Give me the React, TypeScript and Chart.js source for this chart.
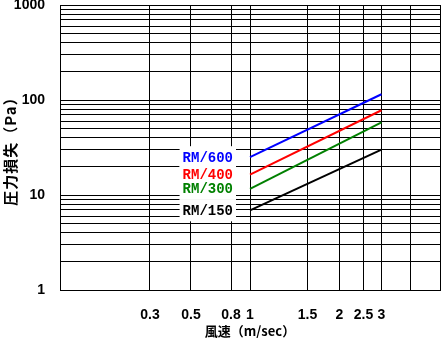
import React, { useEffect, useRef } from 'react';
import { Chart, LinearScale, LogarithmicScale, registerables } from 'chart.js';

// ---- data ----
const windSpeed = [1, 3];
const rm600 = [25, 115];
const rm400 = [16.4, 78];
const rm300 = [11.6, 58];
const rm150 = [6.9, 30];
const seriesLabels = ['RM/600', 'RM/400', 'RM/300', 'RM/150'];
const seriesColors = ['#0000FF', '#FF0000', '#008000', '#000000'];

const xTickValues = [0.3, 0.5, 0.8, 1, 1.5, 2, 2.5, 3];
const xTickLabels = ['0.3', '0.5', '0.8', '1', '1.5', '2', '2.5', '3'];
const yTickValues = [1, 10, 100, 1000];
const yTickLabels = ['1', '10', '100', '1000'];

// gridlines of the original (non-uniform) wind-speed axis
const xGridValues = [0.1, 0.3, 0.5, 0.8, 1, 1.5, 2, 2.5, 3, 4, 5];
// fraction along the axis at which each x grid value sits in the original
const xAxisFractions = [0, 0.2368, 0.3447, 0.45, 0.5, 0.6513, 0.735, 0.7987, 0.846, 0.9229, 1];

const yGridValues: number[] = [];
for (let d = 1; d <= 100; d *= 10) {
  for (let s = 1; s <= 9; s++) yGridValues.push(s * d);
}
yGridValues.push(1000);

class WarpScale extends LinearScale {
  static id = 'warp';
  static defaults = LinearScale.defaults;
  buildTicks() {
    return xGridValues.map((v) => ({ value: v }));
  }
  frac(v: number) {
    const lv = Math.log10(v);
    const n = xGridValues.length;
    if (lv <= Math.log10(xGridValues[0])) return xAxisFractions[0];
    for (let i = 1; i < n; i++) {
      const a = Math.log10(xGridValues[i - 1]);
      const b = Math.log10(xGridValues[i]);
      if (lv <= b) return xAxisFractions[i - 1] + (xAxisFractions[i] - xAxisFractions[i - 1]) * (lv - a) / (b - a);
    }
    return xAxisFractions[n - 1];
  }
  getPixelForValue(v: number) {
    if (v === null || v === undefined || isNaN(v)) return NaN;
    return this.getPixelForDecimal(this.frac(v));
  }
  getValueForPixel(p: number) {
    const f = this.getDecimalForPixel(p);
    const n = xGridValues.length;
    for (let i = 1; i < n; i++) {
      if (f <= xAxisFractions[i]) {
        const t = (f - xAxisFractions[i - 1]) / (xAxisFractions[i] - xAxisFractions[i - 1]);
        const a = Math.log10(xGridValues[i - 1]);
        const b = Math.log10(xGridValues[i]);
        return Math.pow(10, a + t * (b - a));
      }
    }
    return xGridValues[n - 1];
  }
}

// logarithmic scale whose title is drawn with slightly wider letter spacing
class SpacedLogScale extends LogarithmicScale {
  static id = 'spacedLog';
  static defaults = LogarithmicScale.defaults;
  drawTitle() {
    const ctx: any = this.ctx;
    ctx.save();
    ctx.letterSpacing = '1px';
    super.drawTitle();
    ctx.restore();
  }
}

Chart.register(...registerables, WarpScale, SpacedLogScale);

const seriesLabelPlugin = {
  id: 'seriesLabelBoxes',
  afterDatasetsDraw(chart: any) {
    const ctx = chart.ctx;
    ctx.save();
    ctx.font = 'bold 14px "Liberation Mono"';
    ctx.textAlign = 'right';
    ctx.textBaseline = 'middle';
    const items = chart.data.datasets.map((ds: any, i: number) => {
      const pt = chart.getDatasetMeta(i).data[0];
      return { text: ds.label, color: ds.borderColor, x: pt.x - 17, y: pt.y };
    });
    ctx.fillStyle = '#fff';
    items.forEach((it: any) => {
      const w = ctx.measureText(it.text).width;
      ctx.fillRect(it.x - w - 3, it.y - 11, w + 6, 22);
    });
    items.forEach((it: any) => {
      ctx.fillStyle = it.color;
      ctx.fillText(it.text, it.x, it.y + 1);
    });
    ctx.restore();
  },
};

export default function App() {
  const ref = useRef<HTMLCanvasElement | null>(null);
  useEffect(() => {
    if (!ref.current) return;
    const seriesData = [rm600, rm400, rm300, rm150];
    const tickFont = { family: '"Liberation Sans", sans-serif', size: 14, weight: 'bold' as const };
    const chart = new Chart(ref.current, {
      type: 'line',
      data: {
        datasets: seriesData.map((vals, i) => ({
          label: seriesLabels[i],
          data: windSpeed.map((x, j) => ({ x, y: vals[j] })),
          borderColor: seriesColors[i],
          backgroundColor: seriesColors[i],
          borderWidth: 2,
          pointRadius: 0,
          tension: 0,
          fill: false,
        })),
      },
      options: {
        responsive: false,
        animation: false,
        devicePixelRatio: 1,
        color: '#000',
        layout: { padding: { top: 5, right: 1, left: 0, bottom: 0 } },
        plugins: { legend: { display: false }, tooltip: { enabled: false } },
        scales: {
          x: {
            type: 'warp' as any,
            position: 'bottom',
            grid: { color: '#000', lineWidth: 1, drawTicks: false },
            border: { display: true, color: '#000', width: 1 },
            afterFit: (s: any) => {
              s.height = 48;
              s.paddingLeft = 0; s.paddingRight = 0; s.paddingTop = 0; s.paddingBottom = 0;
            },
            ticks: {
              autoSkip: false,
              maxRotation: 0,
              minRotation: 0,
              padding: 17,
              color: '#000',
              font: tickFont,
              callback: (v: any) => {
                const k = xTickValues.indexOf(Number(v));
                return k >= 0 ? xTickLabels[k] : '';
              },
            },
            title: {
              display: true,
              text: '風速（m/sec）',
              color: '#000',
              font: { family: '"Noto Sans CJK JP", sans-serif', size: 13, weight: 'bold', lineHeight: 1 },
              padding: { top: 0, bottom: 0 },
            },
          },
          y: {
            type: 'spacedLog' as any,
            min: 1,
            max: 1000,
            grid: { color: '#000', lineWidth: 1, drawTicks: false },
            border: { display: true, color: '#000', width: 1 },
            afterFit: (s: any) => {
              s.width = 60;
              s.paddingLeft = 0; s.paddingRight = 0; s.paddingTop = 0; s.paddingBottom = 0;
            },
            afterBuildTicks: (s: any) => { s.ticks = yGridValues.map((v) => ({ value: v })); },
            ticks: {
              autoSkip: false,
              padding: 15,
              color: '#000',
              font: tickFont,
              callback: (v: any) => {
                const k = yTickValues.indexOf(Number(v));
                return k >= 0 ? yTickLabels[k] : '';
              },
            },
            title: {
              display: true,
              text: '圧力損失（Pa）',
              color: '#000',
              font: { family: '"Noto Sans CJK JP", sans-serif', size: 15, weight: 'bold', lineHeight: 1 },
              padding: { top: 2.5, bottom: 0 },
            },
          },
        },
      },
      plugins: [seriesLabelPlugin],
    } as any);
    return () => chart.destroy();
  }, []);
  return (
    <div style={{ position: 'fixed', left: 0, top: 0, width: 441, height: 338, background: '#fff' }}>
      <canvas ref={ref} width={441} height={338} style={{ display: 'block' }} />
    </div>
  );
}
